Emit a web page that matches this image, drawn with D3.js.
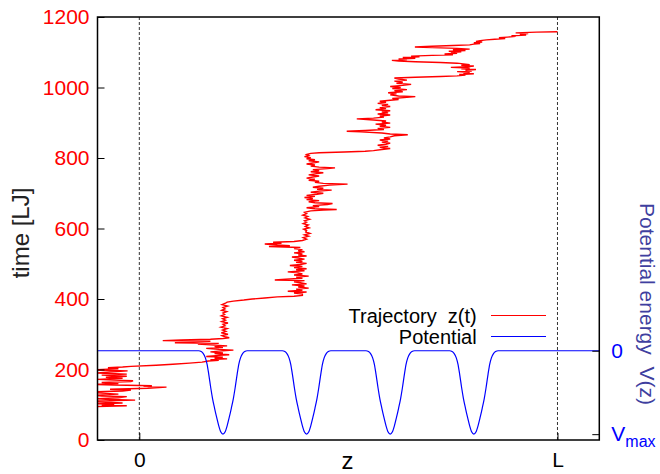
<!DOCTYPE html>
<html>
<head>
<meta charset="utf-8">
<script src="https://cdn.jsdelivr.net/npm/d3@7"></script>
<style>
  html, body { margin: 0; padding: 0; background: #fff; }
  svg { display: block; font-family: "Liberation Sans", Arial, sans-serif; }
</style>
</head>
<body>
<svg id="chart" width="660" height="474"></svg>
<script>
// ---------------- data ----------------
const timeTicks = [0, 200, 400, 600, 800, 1000, 1200];
const zTickValues = [0, 1];
const zTickLabels = ["0", "L"];
const vTickValues = [0, -1];
const seriesNames = ["Trajectory  z(t)", "Potential"];

// trajectory: [time, z/L]
const trajectory = [
[88,-0.14],[95,-0.11],[97,-0.03],[99,-0.09],[101,-0.06],[103,-0.10],[105,-0.04],[107,-0.08],[110,-0.12],[113,-0.01],
[115,-0.07],[117,-0.10],[120,-0.05],[123,-0.03],[125,-0.09],[127,-0.11],[130,-0.05],[133,-0.09],[136,-0.12],[139,-0.04],
[142,-0.02],[144,-0.07],[147,0.02],[150,0.065],[152,0.01],[154,0.03],[156,-0.06],[158,-0.11],[160,-0.05],[163,-0.09],
[166,-0.02],[168,-0.015],[170,-0.06],[172,-0.10],[175,-0.04],[178,-0.08],[181,-0.03],[184,-0.09],[187,-0.03],[190,-0.10],
[193,-0.07],[196,-0.028],[199,-0.11],[202,-0.05],[205,-0.075],[207,-0.04],
[209,-0.02],[212,0.04],[215,0.08],[218,0.12],[221,0.15],[224,0.165],
[226,0.19],[228,0.17],[230,0.21],[232,0.18],[235,0.20],[237,0.16],[240,0.19],[242,0.215],[245,0.18],[247,0.20],
[250,0.17],[252,0.19],[255,0.225],[257,0.19],[260,0.16],[262,0.20],[265,0.18],[267,0.21],[270,0.17],[272,0.14],
[274,0.19],[276,0.085],[278,0.13],[280,0.17],[282,0.056],[284,0.10],[286,0.17],[288,0.20],[290,0.215],
[293,0.205],[296,0.198],[300,0.212],[304,0.196],[308,0.207],[312,0.199],[316,0.21],[320,0.195],[324,0.205],[328,0.2],
[332,0.212],[336,0.197],[340,0.206],[344,0.199],[348,0.21],[352,0.196],[356,0.204],[360,0.2],[364,0.209],[368,0.197],
[372,0.205],[376,0.2],[380,0.211],[384,0.198],[388,0.206],
[391,0.21],[394,0.225],[397,0.25],[400,0.27],[403,0.30],[406,0.33],[408,0.37],[410,0.39],
[414,0.39],[417,0.37],[420,0.40],[422,0.355],[425,0.39],[428,0.375],[431,0.405],[434,0.38],[437,0.395],[440,0.365],
[443,0.40],[446,0.385],[449,0.37],[452,0.395],[454,0.324],[456,0.35],[459,0.39],[462,0.375],[465,0.405],[468,0.37],
[471,0.39],[474,0.38],[477,0.355],[480,0.395],[483,0.375],[486,0.40],[489,0.37],[492,0.39],[495,0.36],[498,0.385],
[501,0.40],[504,0.375],[507,0.39],[510,0.37],[513,0.395],[516,0.38],[519,0.365],[522,0.40],[525,0.38],[528,0.39],
[531,0.37],[534,0.395],[537,0.38],[540,0.39],[543,0.37],[546,0.385],
[549,0.31],[551,0.36],[553,0.33],[556,0.30],[558,0.34],[561,0.32],[563,0.37],[566,0.39],
[570,0.40],[574,0.392],[578,0.405],[582,0.395],[586,0.408],[590,0.398],[594,0.40],[598,0.393],[602,0.406],[606,0.397],
[610,0.404],[614,0.392],[618,0.40],[622,0.395],[626,0.407],[630,0.396],[634,0.403],[638,0.391],[642,0.40],[646,0.395],
[650,0.41],[652,0.44],[654,0.472],[656,0.42],[659,0.40],[662,0.43],[665,0.415],[668,0.45],[671,0.462],[673,0.42],
[676,0.405],[679,0.43],[682,0.40],[685,0.415],[688,0.395],[691,0.42],[694,0.40],[697,0.425],[700,0.44],[703,0.41],
[706,0.43],[709,0.46],[711,0.425],[714,0.44],[717,0.415],[720,0.43],[723,0.455],[726,0.498],[728,0.44],[731,0.42],
[734,0.43],[737,0.405],[740,0.42],[743,0.40],[746,0.415],[749,0.43],[752,0.405],[755,0.42],[758,0.44],[761,0.41],
[764,0.43],[767,0.415],[770,0.45],[772,0.468],[774,0.43],[777,0.41],[780,0.42],[783,0.40],[786,0.415],[789,0.43],
[792,0.405],[795,0.42],[798,0.40],[801,0.41],[804,0.395],[807,0.405],[810,0.40],[813,0.41],
[815,0.43],[817,0.49],[819,0.54],[821,0.56],
[824,0.58],[827,0.60],[830,0.575],[833,0.595],[836,0.57],[839,0.59],[842,0.60],[845,0.58],[848,0.595],[851,0.575],
[854,0.60],[857,0.585],[860,0.60],[863,0.61],[866,0.642],[868,0.60],[871,0.58],[874,0.53],[876,0.496],[878,0.54],
[881,0.585],[884,0.57],[887,0.60],[890,0.575],[893,0.59],[896,0.565],[899,0.60],[902,0.58],[905,0.59],[908,0.56],
[911,0.52],[913,0.56],[916,0.585],[919,0.575],[922,0.60],[925,0.57],[928,0.595],[931,0.58],[934,0.60],[937,0.565],
[940,0.59],[943,0.575],[946,0.60],[949,0.58],[952,0.595],[955,0.57],[958,0.59],[961,0.575],[964,0.60],[966,0.62],
[969,0.605],[972,0.64],[974,0.66],[976,0.62],[979,0.60],[982,0.615],[985,0.595],[988,0.63],[991,0.61],[994,0.64],
[997,0.605],[1000,0.625],[1003,0.60],[1006,0.63],[1009,0.65],[1012,0.615],[1015,0.63],[1018,0.61],[1021,0.64],[1024,0.62],
[1027,0.61],[1029,0.66],[1031,0.72],[1033,0.76],
[1035,0.78],[1037,0.765],[1039,0.80],[1041,0.775],[1043,0.79],[1045,0.76],[1047,0.795],[1049,0.78],[1051,0.805],[1053,0.77],
[1055,0.79],[1057,0.745],[1059,0.785],[1061,0.80],[1063,0.77],[1065,0.79],[1067,0.775],[1069,0.76],
[1071,0.72],[1073,0.66],[1075,0.62],[1077,0.604],[1079,0.64],[1081,0.62],[1083,0.66],[1085,0.63],[1087,0.67],[1089,0.65],
[1091,0.70],[1093,0.75],[1095,0.73],[1097,0.76],[1099,0.745],[1101,0.77],[1103,0.74],[1105,0.78],[1107,0.75],[1109,0.79],
[1111,0.76],[1113,0.70],[1115,0.659],[1117,0.70],[1119,0.75],[1121,0.79],[1123,0.80],[1125,0.815],[1127,0.80],[1129,0.82],
[1131,0.805],[1133,0.815],[1135,0.83],[1137,0.85],[1139,0.875],[1141,0.86],[1143,0.88],[1145,0.90],[1147,0.89],[1149,0.925],
[1151,0.91],[1153,0.93],[1155,0.90],[1157,0.95],[1158,1.0]
];

// potential: well centres (z/L) and one well's profile
const wellCenters = [0.2, 0.4, 0.6, 0.8];
const wellProfileDz = [-0.058,-0.052,-0.047,-0.042,-0.038,-0.034,-0.029,-0.025,-0.02,-0.015,-0.01,-0.005,0,
                       0.005,0.01,0.015,0.02,0.025,0.029,0.034,0.038,0.042,0.047,0.052,0.058];
const wellProfileV  = [0,-0.01,-0.035,-0.085,-0.16,-0.28,-0.45,-0.57,-0.69,-0.8,-0.9,-0.975,-1,
                       -0.975,-0.9,-0.8,-0.69,-0.57,-0.45,-0.28,-0.16,-0.085,-0.035,-0.01,0];
const zDomain = [-0.1, 1.1];

// ---------------- chart ----------------
const svg = d3.select("#chart");
const L = 97.5, R = 599.3, T = 17, B = 440;
const FONT = '"Liberation Sans", Arial, sans-serif';

const x = d3.scaleLinear().domain(zDomain).range([L, R]);
const y = d3.scaleLinear().domain([0, 1200]).range([B, T]);
const yV = d3.scaleLinear().domain([-1.07, 4]).range([B, T]);

svg.append("defs").append("clipPath").attr("id", "clip")
  .append("rect").attr("x", L).attr("y", T).attr("width", R - L).attr("height", B - T);

// dashed lines at z=0 and z=L
svg.append("g").selectAll("line").data(zTickValues).join("line")
  .attr("x1", d => x(d)).attr("x2", d => x(d))
  .attr("y1", T).attr("y2", B)
  .attr("stroke", "#333").attr("stroke-width", 1).attr("stroke-dasharray", "3,2");

// trajectory
const trajLine = d3.line().x(d => x(d[1])).y(d => y(d[0]));
svg.append("path").datum(trajectory)
  .attr("clip-path", "url(#clip)")
  .attr("d", trajLine)
  .attr("fill", "none").attr("stroke", "#ff0000").attr("stroke-width", 1.4);

// potential
const potPts = [[zDomain[0], 0]];
wellCenters.forEach(c => wellProfileDz.forEach((dz, i) => potPts.push([c + dz, wellProfileV[i]])));
potPts.push([zDomain[1], 0]);
const potLine = d3.line().x(d => x(d[0])).y(d => yV(d[1])).curve(d3.curveMonotoneX);
svg.append("path").datum(potPts)
  .attr("clip-path", "url(#clip)")
  .attr("d", potLine)
  .attr("fill", "none").attr("stroke", "#0000ff").attr("stroke-width", 1.2);

// axes
const yAxis = d3.axisLeft(y).tickValues(timeTicks).tickFormat(d3.format("d"))
  .tickSize(-7).tickSizeOuter(0).tickPadding(8);
const gy = svg.append("g").attr("transform", `translate(${L},0)`).call(yAxis);
gy.select(".domain").remove();
gy.selectAll("text").attr("fill", "#ff0000").style("font-size", "21px").style("font-family", FONT);
gy.selectAll("line").attr("stroke", "#000");

const xAxis = d3.axisBottom(x).tickValues(zTickValues).tickFormat((d, i) => zTickLabels[i])
  .tickSize(-7).tickSizeOuter(0).tickPadding(12);
const gx = svg.append("g").attr("transform", `translate(0,${B})`).call(xAxis);
gx.select(".domain").remove();
gx.selectAll("text").attr("fill", "#000").style("font-size", "21px").style("font-family", FONT);
gx.selectAll("line").attr("stroke", "#000");

const vAxis = d3.axisRight(yV).tickValues(vTickValues).tickFormat(() => "")
  .tickSize(-7).tickSizeOuter(0).tickPadding(12);
const gv = svg.append("g").attr("transform", `translate(${R},0)`).call(vAxis);
gv.select(".domain").remove();
gv.selectAll("line").attr("stroke", "#000");
gv.selectAll(".tick text").each(function(d) {
  const t = d3.select(this).attr("fill", "#0000ff").style("font-size", "21px").style("font-family", FONT);
  if (d === 0) {
    t.text("0");
  } else {
    t.text("V");
    t.append("tspan").attr("dy", "0.35em").style("font-size", "16px").text("max");
  }
});

// frame
svg.append("rect").attr("x", L).attr("y", T).attr("width", R - L).attr("height", B - T)
  .attr("fill", "none").attr("stroke", "#000").attr("stroke-width", 1.5);

// axis titles
svg.append("text").attr("transform", `translate(29,233) rotate(-90)`)
  .attr("text-anchor", "middle").attr("fill", "#222")
  .style("font-size", "24px").style("font-family", FONT).text("time [LJ]");
svg.append("text").attr("x", 347.5).attr("y", 469)
  .attr("text-anchor", "middle").attr("fill", "#000")
  .style("font-size", "24px").style("font-family", FONT).text("z");
svg.append("text").attr("transform", `translate(640,304) rotate(90)`)
  .attr("text-anchor", "middle").attr("fill", "#3f3f9f").style("white-space", "pre")
  .style("font-size", "21px").style("font-family", FONT).text("Potential energy  V(z)");

// legend
const legendColors = ["#ff0000", "#0000ff"];
const legendY = [315.5, 336.5];
const lg = svg.append("g");
seriesNames.forEach((name, i) => {
  lg.append("text").attr("x", 476.7).attr("y", legendY[i] + 7.2)
    .attr("text-anchor", "end").attr("fill", "#000").style("white-space", "pre")
    .style("font-size", "20px").style("font-family", FONT).text(name);
  lg.append("line").attr("x1", 491).attr("x2", 546).attr("y1", legendY[i]).attr("y2", legendY[i])
    .attr("stroke", legendColors[i]).attr("stroke-width", 1.2);
});
</script>
</body>
</html>
